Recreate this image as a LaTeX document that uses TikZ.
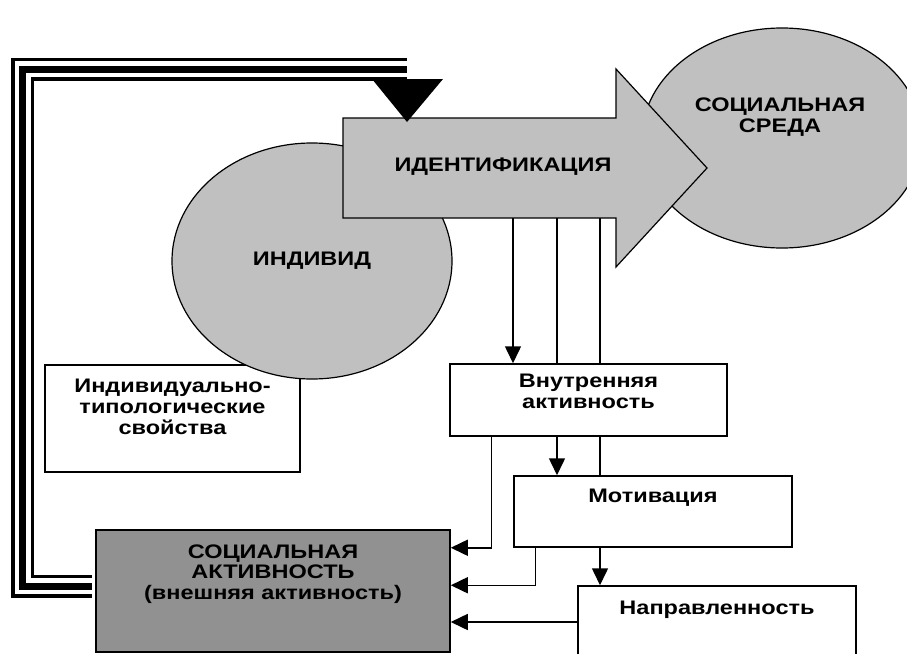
\documentclass[tikz,border=0pt]{standalone}
\usepackage{fontspec}
\setmainfont{Liberation Sans}[FakeStretch=1.2]
\usetikzlibrary{arrows.meta,positioning,shapes.geometric}
\definecolor{shapegray}{RGB}{192,192,192}
\definecolor{activegray}{RGB}{145,145,145}
\begin{document}
\begin{tikzpicture}[x=1pt,y=-1pt,
    box/.style={draw, line width=1.5pt, fill=white, inner sep=0pt},
    blob/.style={ellipse, draw, line width=1.2pt, fill=shapegray, inner sep=0pt, font=\fontsize{19.6}{20.8}\selectfont\bfseries},
    lbl/.style={inner sep=0pt, align=center, font=\fontsize{19.6}{20.8}\selectfont\bfseries},
    conn/.style={line width=1.5pt},
    arr/.style={conn, -{Triangle[length=17pt,width=16pt]}}]
  \useasboundingbox (0,0) rectangle (907,653);

  \node[box, minimum width=255pt, minimum height=107pt] (itp) at (172.5,418.5) {};
  \node[lbl, below=15pt of itp.north] (itptext) {Индивидуально-\\типологические\\свойства};

  \node[blob, minimum width=280pt, minimum height=236pt] (individ) at (312,261) {ИНДИВИД};
  \node[blob, minimum width=280pt, minimum height=220pt] (sreda) at (782,138) {};
  \node[lbl] (sredatext) at (780,117) {СОЦИАЛЬНАЯ\\СРЕДА};

  \draw[line width=1.2pt, fill=shapegray] (343,118) -- (616,118) -- (616,69) -- (707,168)
    -- (616,267) -- (616,218) -- (343,218) -- cycle;
  \node[lbl] (ident) at (503,167) {ИДЕНТИФИКАЦИЯ};
  \coordinate (d1) at (513,218);
  \coordinate (d2) at (557,218);
  \coordinate (d3) at (600,218);

  \node[box, minimum width=277pt, minimum height=72pt] (vn) at (588.5,400) {};
  \node[lbl, below=11pt of vn.north] (vntext) {Внутренняя\\активность};
  \node[box, minimum width=278pt, minimum height=71pt] (mot) at (653,511.5) {};
  \node[lbl, below=14pt of mot.north] (mottext) {Мотивация};
  \node[box, minimum width=278pt, minimum height=72pt] (nap) at (717,622) {};
  \node[lbl, below=16pt of nap.north] (naptext) {Направленность};
  \node[box, fill=activegray, minimum width=354pt, minimum height=122pt] (sa) at (273,591) {};
  \node[lbl, below=15pt of sa.north] (satext) {СОЦИАЛЬНАЯ\\АКТИВНОСТЬ\\(внешняя активность)};

  \draw[arr] (d1) -- (d1 |- vn.north);
  \draw[conn] (d2) -- (d2 |- vn.north);
  \draw[conn] (d3) -- (d3 |- vn.north);
  \draw[arr] (d2 |- vn.south) -- (d2 |- mot.north);
  \draw[conn] (d3 |- vn.south) -- (d3 |- mot.north);
  \draw[arr] (d3 |- mot.south) -- (d3 |- nap.north);
  \draw[arr] ([xshift=42pt]vn.south west) |- (sa.east |- mot.south);
  \draw[arr] ([xshift=22pt]mot.south west) |- (sa.east |- nap.north);
  \draw[arr] (nap.west) -- (sa.east |- nap.west);

  \coordinate (fb) at (92,586);
  \coordinate (fc1) at (22.5,586);
  \coordinate (fc2) at (22.5,69);
  \coordinate (ft) at (407,69);
  \foreach \w/\c in {23/black,16/white,7/black}
    \draw[line width=\w pt, \c] (fb) -- (fc1) -- (fc2) -- (ft);
  \fill (372,79) -- (443,79) -- (407,122) -- cycle;
\end{tikzpicture}
\end{document}
